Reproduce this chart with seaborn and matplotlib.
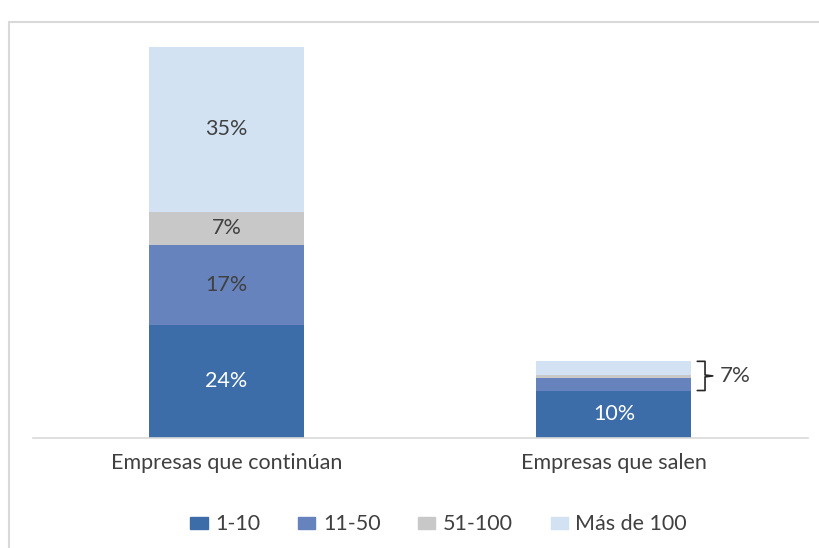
import matplotlib.pyplot as plt
import matplotlib.patches as mpatches
import pandas as pd
import seaborn as sns

# %%
categories = ["Empresas que continúan", "Empresas que salen"]
sizes = ["1-10", "11-50", "51-100", "Más de 100"]
share_1_10 = [24, 10]
share_11_50 = [17, 2.6]
share_51_100 = [7, 0.8]
share_100_plus = [35, 2.8]
label_text = [["24%", "17%", "7%", "35%"], ["10%", "", "", ""]]
label_color = ["white", "#404040", "#404040", "#404040"]
bracket_label = "7%"

colors = ["#3C6DA9", "#6783BD", "#C8C8C8", "#D2E2F3"]

df = pd.DataFrame(
    {
        "categoria": categories,
        "1-10": share_1_10,
        "11-50": share_11_50,
        "51-100": share_51_100,
        "Más de 100": share_100_plus,
    }
).set_index("categoria")
cum = df[sizes].cumsum(axis=1)

# %%
sns.set_theme(style="white")
plt.rcParams["font.family"] = ["Lato", "DejaVu Sans"]
text_color = "#404040"

fig = plt.figure(figsize=(8.2, 5.48), dpi=100)
ax = fig.add_axes([0.04, 0.2015, 0.945, 0.73])

# stacked bars: draw cumulative totals from top down, each covering the one before
for size, color in reversed(list(zip(sizes, colors))):
    sns.barplot(
        x=cum.index,
        y=cum[size].values,
        color=color,
        width=0.4,
        saturation=1,
        linewidth=0,
        label=size,
        ax=ax,
    )

ax.set_xlim(-0.5, 1.5)
ax.set_ylim(0, 85)
ax.set_yticks([])
ax.set_xlabel("")
ax.set_ylabel("")
for side in ["left", "right", "top"]:
    ax.spines[side].set_visible(False)
ax.spines["bottom"].set_color("#D9D9D9")
ax.spines["bottom"].set_linewidth(1.2)
ax.tick_params(axis="x", length=0, pad=11, labelsize=15.5, labelcolor=text_color)

# segment labels
for i, cat in enumerate(categories):
    bottom = 0
    for j, size in enumerate(sizes):
        val = df.loc[cat, size]
        if label_text[i][j]:
            ax.text(i, bottom + val / 2, label_text[i][j], ha="center", va="center",
                    fontsize=15.5, color=label_color[j])
        bottom += val

# bracket for the small segments of the second bar
top = cum.loc[categories[1], "Más de 100"]
low = share_1_10[1]
mid = (top + low) / 2
x0, x1, xt = 1.215, 1.235, 1.255
ax.plot([x0, x1, x1, xt, x1, x1, x0],
        [top, top, mid + 0.2, mid, mid - 0.2, low, low],
        color="#262626", lw=1.2, clip_on=False)
ax.text(1.272, mid, bracket_label, ha="left", va="center", fontsize=16, color=text_color)

# legend at the bottom, in original order
handles = [mpatches.Patch(color=c, label=s) for s, c in zip(sizes, colors)]
ax.legend(handles=handles, loc="center", bbox_to_anchor=(0.535, 0.043),
          bbox_transform=fig.transFigure, ncol=4, frameon=False, fontsize=15.5,
          handlelength=0.8, handleheight=0.5, handletextpad=0.35, columnspacing=1.75,
          labelcolor=text_color)

# outer chart frame (cropped on right and bottom)
fig.patches.append(mpatches.Rectangle((8.5 / 820, -0.1), 1.2, 1.1 - 22 / 548,
                                      transform=fig.transFigure, fill=False,
                                      edgecolor="#D9D9D9", lw=1.5))

plt.savefig("out.png", dpi=100)
